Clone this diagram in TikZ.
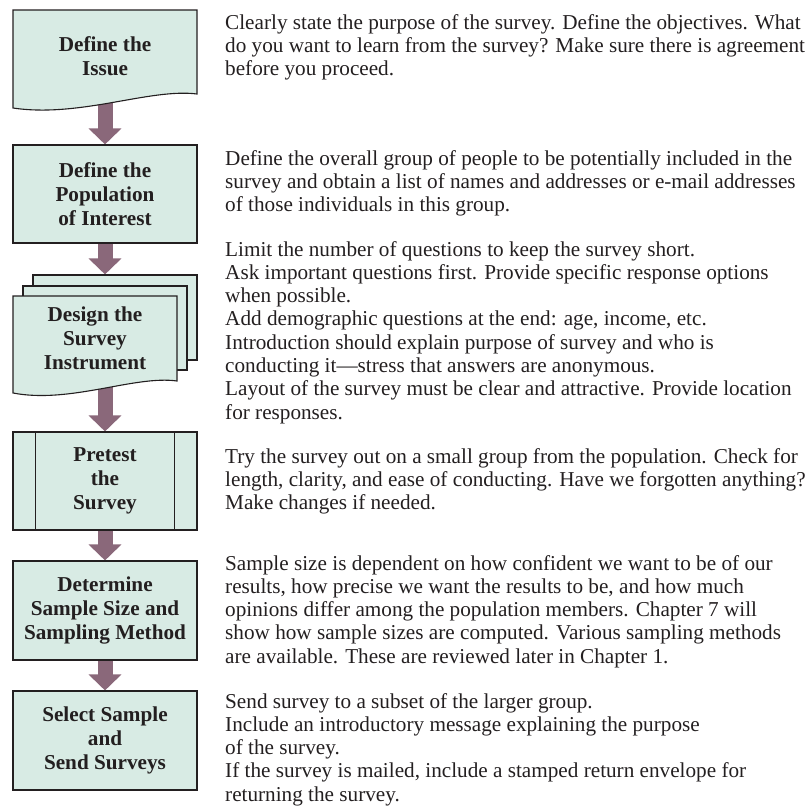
\documentclass[tikz,border=0pt]{standalone}
\usepackage{fontspec}
\setmainfont{Liberation Serif}
\usetikzlibrary{arrows.meta,backgrounds}
\definecolor{boxfill}{RGB}{216,235,228}
\definecolor{arrowcol}{RGB}{138,104,122}
\definecolor{edgecol}{RGB}{35,31,32}
\definecolor{txtcol}{RGB}{35,31,32}
\begin{document}
\begin{tikzpicture}[x=1pt,y=-1pt,
  sheet/.style={draw=edgecol, line width=1.1pt, fill=boxfill},
  boxnode/.style={sheet, minimum width=184pt, inner sep=0pt, font=\fontsize{21.2}{24}\selectfont\bfseries, align=center, text=txtcol},
  title/.style={inner sep=0pt, font=\fontsize{21.2}{24}\selectfont\bfseries, align=center, text=txtcol},
  desc/.style={anchor=base west, inner sep=0pt, font=\fontsize{21.2}{23.3}\selectfont, text=txtcol},
  flow/.style={draw=arrowcol, line width=15pt, -{Triangle[width=32pt,length=16pt,fill=arrowcol]}}
]
\useasboundingbox (0,0) rectangle (809,809);

% Box 1: document shape
\path[sheet] (13,10) -- (197,10) -- (197,94) .. controls (150,88) and (80,118) .. (13,108) -- cycle;
\node[title] (b1) at (105,56) {Define the\\Issue};

% Box 2
\node[boxnode, minimum height=98pt] (b2) at (105,194) {Define the\\Population\\of Interest};

% Box 3: multiple documents
\node[sheet, minimum width=164pt, minimum height=85pt, inner sep=0pt] (s3b) at (115,317.5) {};
\node[sheet, minimum width=164pt, minimum height=84pt, inner sep=0pt] (s3m) at (105,328) {};
\path[sheet] (13,296) -- (177,296) -- (177,381) .. controls (135,375) and (70,404) .. (13,393) -- cycle;
\node[title] (b3) at (95,338) {Design the\\Survey\\Instrument};

% Box 4: predefined process
\node[boxnode, minimum height=98pt] (b4) at (105,481) {Pretest\\the\\Survey};
\draw[edgecol, line width=1.1pt] ([xshift=23pt]b4.north west) -- ([xshift=23pt]b4.south west);
\draw[edgecol, line width=1.1pt] ([xshift=-23pt]b4.north east) -- ([xshift=-23pt]b4.south east);

% Box 5, 6
\node[boxnode, minimum height=99pt] (b5) at (105,610.5) {Determine\\Sample Size and\\Sampling Method};
\node[boxnode, minimum height=99pt] (b6) at (105,740.5) {Select Sample\\and\\Send Surveys};

% Arrows
\begin{pgfonlayer}{background}
\draw[flow] (b1) -- (b2.north);
\draw[flow] (b2) -- (b2 |- s3b.north);
\draw[flow] (b3.center -| b4.north) -- (b4.north);
\draw[flow] (b4) -- (b5.north);
\draw[flow] (b5) -- (b6.north);
\end{pgfonlayer}

% Descriptions
\node[desc] (t1) at (225,29) {\begin{tabular}[t]{@{}l@{}}
Clearly state the purpose of the survey. Define the objectives. What\\
do you want to learn from the survey? Make sure there is agreement\\
before you proceed.\end{tabular}};
\node[desc] (t2) at (225,165) {\begin{tabular}[t]{@{}l@{}}
Define the overall group of people to be potentially included in the\\
survey and obtain a list of names and addresses or e-mail addresses\\
of those individuals in this group.\end{tabular}};
\node[desc] (t3) at (225,256) {\begin{tabular}[t]{@{}l@{}}
Limit the number of questions to keep the survey short.\\
Ask important questions first. Provide specific response options\\
when possible.\\
Add demographic questions at the end: age, income, etc.\\
Introduction should explain purpose of survey and who is\\
conducting it---stress that answers are anonymous.\\
Layout of the survey must be clear and attractive. Provide location\\
for responses.\end{tabular}};
\node[desc] (t4) at (225,463) {\begin{tabular}[t]{@{}l@{}}
Try the survey out on a small group from the population. Check for\\
length, clarity, and ease of conducting. Have we forgotten anything?\\
Make changes if needed.\end{tabular}};
\node[desc] (t5) at (225,570) {\begin{tabular}[t]{@{}l@{}}
Sample size is dependent on how confident we want to be of our\\
results, how precise we want the results to be, and how much\\
opinions differ among the population members. Chapter 7 will\\
show how sample sizes are computed. Various sampling methods\\
are available. These are reviewed later in Chapter 1.\end{tabular}};
\node[desc] (t6) at (225,708) {\begin{tabular}[t]{@{}l@{}}
Send survey to a subset of the larger group.\\
Include an introductory message explaining the purpose\\
of the survey.\\
If the survey is mailed, include a stamped return envelope for\\
returning the survey.\end{tabular}};
\end{tikzpicture}
\end{document}
